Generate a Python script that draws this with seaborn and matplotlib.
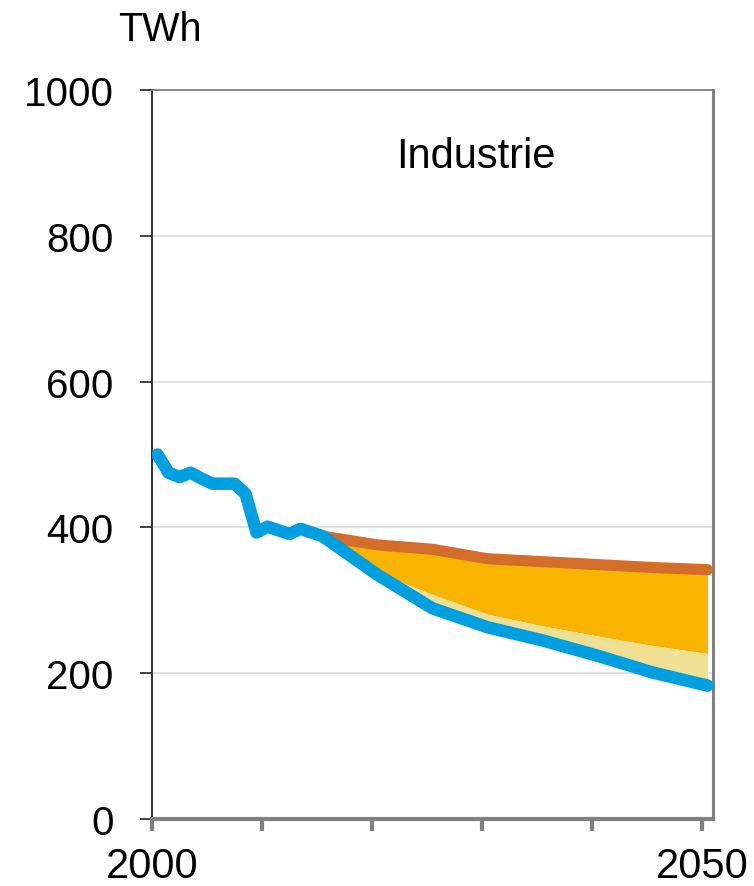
import matplotlib
matplotlib.use("Agg")
import matplotlib.pyplot as plt
import seaborn as sns
import numpy as np
import pandas as pd

# Historical electricity demand of industry (TWh)
hist_years = [2000, 2001, 2002, 2003, 2004, 2005, 2006, 2007, 2008, 2009,
              2010, 2011, 2012, 2013, 2014, 2015]
hist_twh = [500, 475, 469, 475, 467, 460, 460, 460, 446, 393,
            401, 396, 391, 398, 393, 388]

# Scenario years
proj_years = [2015, 2020, 2025, 2030, 2035, 2040, 2045, 2050]
# Reference path (upper line)
ref_twh = [388, 376, 370, 357, 353, 349, 345, 342]
# Intermediate boundary between the two savings bands
mid_twh = [388, 338, 308, 281, 265, 251, 238, 227]
# Target path (lower line, continues the historical series)
target_twh = [388, 335, 289, 263, 245, 224, 201, 183]

x_ticks = [1999.5, 2009.5, 2019.5, 2029.5, 2039.5, 2049.5]
x_tick_labels = ["2000", "", "", "", "", "2050"]
y_ticks = [0, 200, 400, 600, 800, 1000]

BLUE = "#009FE0"
ORANGE = "#D26E2A"
DARK_YELLOW = "#F9B400"
LIGHT_YELLOW = "#F0E094"
GRID = "#D9D9D9"
SPINE_GREY = "#808080"

sns.set_style("white")
plt.rcParams["font.family"] = ["Liberation Sans", "DejaVu Sans"]
plt.rcParams["text.color"] = "black"
plt.rcParams["xtick.color"] = "black"
plt.rcParams["ytick.color"] = "black"

fig = plt.figure(figsize=(7.54, 8.87), dpi=100)
ax = fig.add_axes([152 / 754, 1 - 820 / 887, (713 - 152) / 754, (820 - 91) / 887])

blue_df = pd.DataFrame({
    "year": hist_years + proj_years[1:],
    "twh": hist_twh + target_twh[1:],
})
ref_df = pd.DataFrame({"year": proj_years, "twh": ref_twh})

# Savings bands
ax.fill_between(proj_years, mid_twh, ref_twh, color=DARK_YELLOW, linewidth=0, zorder=2)
ax.fill_between(proj_years, target_twh, mid_twh, color=LIGHT_YELLOW, linewidth=0, zorder=2)

sns.lineplot(data=ref_df, x="year", y="twh", ax=ax, color=ORANGE, linewidth=8,
             solid_capstyle="round", solid_joinstyle="round", zorder=3)
sns.lineplot(data=blue_df, x="year", y="twh", ax=ax, color=BLUE, linewidth=9,
             solid_capstyle="round", solid_joinstyle="round", zorder=4)

ax.set_xlim(1999.5, 2050.5)
ax.set_ylim(0, 1000)
ax.set_xlabel("")
ax.set_ylabel("")

ax.set_yticks(y_ticks)
ax.set_yticklabels([str(v) for v in y_ticks])
ax.set_xticks(x_ticks)
ax.set_xticklabels(x_tick_labels)

ax.yaxis.grid(True, color=GRID, linewidth=1.1, zorder=0)
ax.xaxis.grid(False)
ax.set_axisbelow(True)

ax.tick_params(axis="y", direction="out", length=8.6, width=1.2, color="#222222",
               labelsize=29, pad=19, left=True, labelcolor="black")
ax.tick_params(axis="x", direction="out", length=8.6, width=3, color=SPINE_GREY,
               labelsize=30, pad=11, bottom=True, labelcolor="black")

for side in ["left", "right", "top", "bottom"]:
    ax.spines[side].set_visible(True)
ax.spines["left"].set_color("#222222")
ax.spines["left"].set_linewidth(1.3)
ax.spines["top"].set_color(SPINE_GREY)
ax.spines["top"].set_linewidth(1.3)
ax.spines["right"].set_color(SPINE_GREY)
ax.spines["right"].set_linewidth(2.2)
ax.spines["bottom"].set_color(SPINE_GREY)
ax.spines["bottom"].set_linewidth(3)

ax.text(2028.9, 909, "Industrie", ha="center", va="center", fontsize=30, color="black")
fig.text(160 / 754, 1 - 30 / 887, "TWh", ha="center", va="center", fontsize=28.5,
         color="black")

fig.savefig("out.png", dpi=100)
